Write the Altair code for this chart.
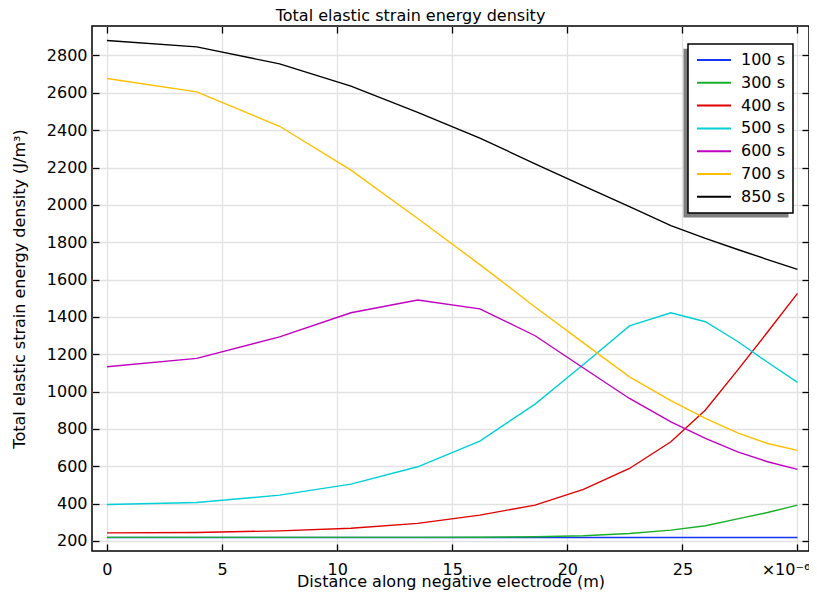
import altair as alt
import pandas as pd

# ---------------- data ----------------
x_nodes = [0.0, 3.9, 7.5, 10.6, 13.5, 16.2, 18.6, 20.7, 22.7, 24.5, 26.0, 27.4, 28.7, 30.0]

series_labels = ["100 s", "300 s", "400 s", "500 s", "600 s", "700 s", "850 s"]
series_colors = ["#1535f5", "#18b02a", "#e00000", "#00d0d6", "#c000c0", "#ffbf00", "#000000"]

v_100 = [218, 218, 218, 218, 218, 218, 218, 218, 218, 218, 218, 218, 218, 218]
v_300 = [219, 219, 219, 219, 219, 220, 222, 228, 240, 258, 281, 318, 352, 392]
v_400 = [243, 245, 254, 268, 294, 338, 392, 476, 588, 731, 901, 1115, 1319, 1526]
v_500 = [395, 406, 445, 504, 597, 735, 933, 1145, 1352, 1422, 1374, 1268, 1157, 1049]
v_600 = [1133, 1178, 1293, 1422, 1490, 1443, 1299, 1126, 963, 838, 749, 677, 624, 583]
v_700 = [2677, 2605, 2421, 2186, 1927, 1680, 1453, 1261, 1079, 951, 856, 779, 722, 685]
v_850 = [2880, 2846, 2755, 2636, 2495, 2358, 2220, 2102, 1990, 1889, 1820, 1761, 1707, 1654]
series_values = [v_100, v_300, v_400, v_500, v_600, v_700, v_850]

x_ticks = [0, 5, 10, 15, 20, 25, 30]
y_ticks = [200, 400, 600, 800, 1000, 1200, 1400, 1600, 1800, 2000, 2200, 2400, 2600, 2800]

title_text = "Total elastic strain energy density"
x_title = "Distance along negative electrode (m)"
y_title = "Total elastic strain energy density (J/m³)"
x_factor_label = "×10⁻⁶"

# ---------------- table ----------------
rows = []
for lab, vals in zip(series_labels, series_values):
    for xv, vv in zip(x_nodes, vals):
        rows.append({"x": xv, "v": vv, "series": lab})
df = pd.DataFrame(rows)

FONT = "DejaVu Sans"
x_scale = alt.Scale(domain=[-0.65, 30.5], nice=False, zero=False)
y_scale = alt.Scale(domain=[146, 2958], nice=False, zero=False)

PLOT_W, PLOT_H = 717, 525
LEG_X, LEG_Y = 596, 18
LEG_W, LEG_H = 105, 168.8

x_bottom = alt.Axis(orient="bottom", values=x_ticks, title=x_title,
                    labelExpr=f"datum.value == 30 ? '{x_factor_label}' : datum.label",
                    labelOffset=alt.condition("datum.value == 30", alt.value(-12), alt.value(0)),
                    offset=-7, tickSize=7, domain=False, grid=True,
                    labelPadding=10, titlePadding=-4, labelFlush=False)
x_top = alt.Axis(orient="top", values=x_ticks, title=None, labels=False,
                 offset=-7, tickSize=7, domain=False, grid=False)
y_left = alt.Axis(orient="left", values=y_ticks, title=y_title, format="d",
                  offset=-7, tickSize=7, domain=False, grid=True,
                  labelPadding=5, titlePadding=19, labelFlush=False)
y_right = alt.Axis(orient="right", values=y_ticks, title=None, labels=False,
                   offset=-7, tickSize=7, domain=False, grid=False)

color = alt.Color("series:N",
                  scale=alt.Scale(domain=series_labels, range=series_colors),
                  legend=alt.Legend(orient="none", legendX=LEG_X, legendY=LEG_Y,
                                    title=None, symbolType="stroke",
                                    symbolSize=1156, symbolStrokeWidth=2,
                                    labelFontSize=16, labelFont=FONT, labelColor="black",
                                    labelOffset=9, padding=8, rowPadding=6.8,
                                    clipHeight=16, fillColor="white",
                                    strokeColor="black", cornerRadius=0))

lines = alt.Chart(df).mark_line(strokeWidth=1.4).encode(
    x=alt.X("x:Q", scale=x_scale, axis=x_bottom),
    y=alt.Y("v:Q", scale=y_scale, axis=y_left),
    color=color,
)

frame_axes = alt.Chart(df).mark_line(opacity=0).encode(
    x=alt.X("x:Q", scale=x_scale, axis=x_top),
    y=alt.Y("v:Q", scale=y_scale, axis=y_right),
    detail="series:N",
)

# drop shadow of the legend box (decoration)
shadow = alt.Chart(pd.DataFrame({"k": [0]})).mark_rect(color="#7f7f7f").encode(
    x=alt.value(LEG_X - 4.5), x2=alt.value(LEG_X - 4.5 + LEG_W),
    y=alt.value(LEG_Y + 4.7), y2=alt.value(LEG_Y + 4.7 + LEG_H),
)

chart = alt.layer(shadow, lines, frame_axes).resolve_axis(
    x="independent", y="independent"
).properties(
    width=PLOT_W, height=PLOT_H,
    autosize=alt.AutoSizeParams(type="none"),
    padding={"left": 84, "top": 18, "right": 0, "bottom": 40},
    title=alt.Title(title_text, font=FONT, fontSize=16, fontWeight="normal",
                    color="black", anchor="middle", frame="bounds", offset=1),
).configure_view(
    stroke="black", strokeWidth=1.5
).configure_axis(
    labelFont=FONT, labelFontSize=16, labelColor="black",
    titleFont=FONT, titleFontSize=16, titleFontWeight="normal", titleColor="black",
    gridColor="#e2e2e2", gridWidth=1.3, tickColor="black", tickWidth=1.3,
).configure_legend(
    strokeWidth=1.5
)

chart.save("out.html", embed_options={"renderer": "svg", "actions": False})
